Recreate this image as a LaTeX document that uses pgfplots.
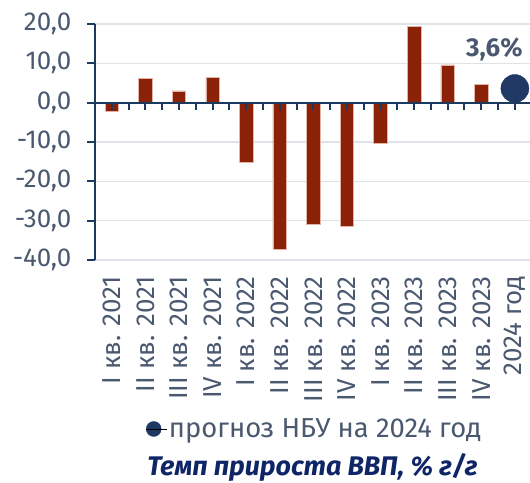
\documentclass[border=0pt]{standalone}
\usepackage{fontspec}
\setmainfont{Fira Sans}
\usepackage{pgfplots}
\pgfplotsset{compat=1.18}
\definecolor{barred}{HTML}{8B2207}
\definecolor{barout}{HTML}{E2B4A8}
\definecolor{navy}{HTML}{1C3A5E}
\definecolor{dotc}{HTML}{1F3864}
\definecolor{txt}{HTML}{4A5870}
\definecolor{gridc}{HTML}{DFE3E9}
\definecolor{titlec}{HTML}{0E2566}
\begin{document}
\begin{tikzpicture}
\begin{axis}[name=ax, scale only axis, width=435bp, height=236bp,
  xmin=-0.5, xmax=12.45, ymin=-40, ymax=20,
  ytick={-40,-30,-20,-10,0,10,20},
  xtick={0,1,2,3,4,5,6,7,8,9,10,11,12},
  xticklabels={I кв. 2021,II кв. 2021,III кв. 2021,IV кв. 2021,I кв. 2022,II кв. 2022,III кв. 2022,IV кв. 2022,I кв. 2023,II кв. 2023,III кв. 2023,IV кв. 2023,2024 год},
  axis y line*=left, axis x line*=bottom,
  x axis line style={draw=none},
  y axis line style={draw=navy, line width=2bp},
  major x tick style={draw=none},
  major y tick style={draw=navy, line width=2bp},
  ytick align=outside, major tick length=8bp,
  ymajorgrids, grid style={draw=gridc, line width=1.3bp},
  /pgf/number format/.cd, fixed, fixed zerofill, precision=1, use comma, 1000 sep={}, assume math mode=true,
  /pgfplots/.cd,
  yticklabel style={font=\fontsize{26}{30}\selectfont, text=txt, inner sep=0pt, xshift=-15.5bp},
  xticklabel style={font=\fontsize{26}{30}\selectfont, text=txt, rotate=90, anchor=east, inner sep=0pt, xshift=-16bp},
  legend style={at={(0.505,-0.716)}, anchor=center, draw=none, fill=none,
    font=\fontsize{27.5}{30}\selectfont, text=txt, inner sep=0pt,
    legend cell align=left},
  legend image code/.code={\fill[dotc] (0,0) circle (7.5bp); \path (-7.5bp,0) -- (13bp,0);},
  clip=false,
]
\addplot[ybar, bar width=13.5bp, fill=barred, draw=barout, line width=0.6bp, forget plot]
  coordinates {(0,-2.1) (1,6.2) (2,3.0) (3,6.4) (4,-15.2) (5,-37.3) (6,-30.9) (7,-31.5) (8,-10.3) (9,19.3) (10,9.6) (11,4.7)};
\addplot[only marks, mark=*, mark size=14bp, mark options={fill=dotc, draw=dotc},
  nodes near coords={3,6\%},
  every node near coord/.append style={anchor=center, xshift=-20.5bp, yshift=39bp, font=\bfseries\fontsize{26}{30}\selectfont, text=txt}]
  coordinates {(12,3.6)};
\addlegendentry{прогноз НБУ на 2024 год}
\draw[navy, line width=2bp] (axis cs:-0.5,0) -- (axis cs:12.45,0);
\pgfplotsinvokeforeach{0,0.5,1,1.5,2,2.5,3,3.5,4,4.5,5,5.5,6,6.5,7,7.5,8,8.5,9,9.5,10,10.5,11,11.5,12}{
  \draw[navy, line width=2bp] (axis cs:#1,0) -- (axis cs:#1,-1.85);
}
\node[anchor=base, font=\bfseries\itshape\fontsize{27}{30}\selectfont, text=titlec] at (rel axis cs:0.5,-0.915) {Темп прироста ВВП, \% г/г};
\end{axis}
\pgfresetboundingbox
\path ([shift={(-95bp,-223bp)}]ax.south west) rectangle ([shift={(435bp,260bp)}]ax.south west);
\end{tikzpicture}
\end{document}
